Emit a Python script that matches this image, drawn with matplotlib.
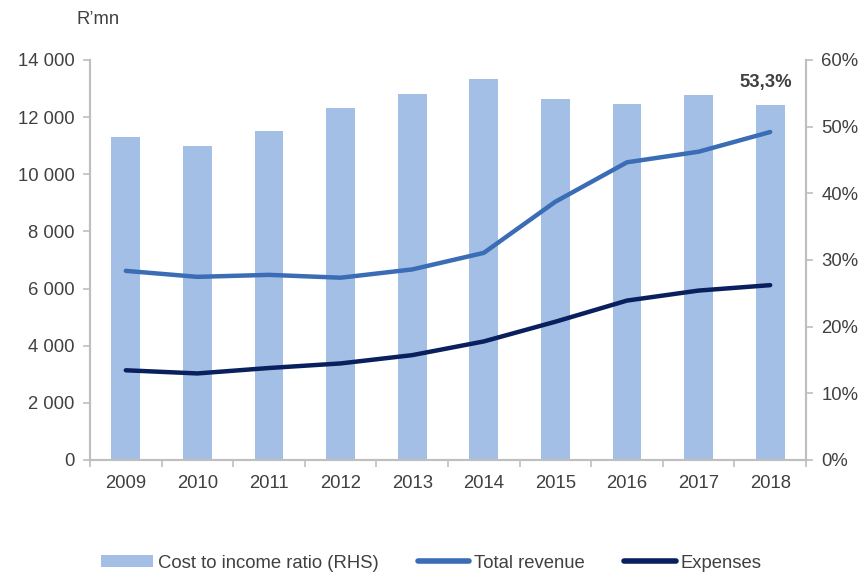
import numpy as np
import matplotlib
matplotlib.use("Agg")
import matplotlib.pyplot as plt
from matplotlib.patches import Patch
from matplotlib.lines import Line2D
from matplotlib.ticker import FuncFormatter, MultipleLocator

plt.rcParams['font.family'] = ['Liberation Sans', 'DejaVu Sans']

years = ['2009', '2010', '2011', '2012', '2013', '2014', '2015', '2016', '2017', '2018']
cost_income = [48.4, 47.1, 49.4, 52.8, 54.9, 57.1, 54.1, 53.4, 54.8, 53.3]   # %, RHS
total_revenue = [6620, 6410, 6480, 6380, 6670, 7250, 9040, 10420, 10790, 11480]
expenses = [3140, 3030, 3220, 3380, 3670, 4150, 4840, 5580, 5930, 6120]

bar_col = '#A4BFE5'
rev_col = '#3A6DB5'
exp_col = '#0A1F5E'
txt_col = '#404040'
spine_col = '#BFBFBF'
fs = 13.3

fig = plt.figure(figsize=(8.63, 5.73), dpi=100)
ax = fig.add_axes([90/863, 113/573, 716/863, 400/573])
ax2 = ax.twinx()

x = np.arange(len(years))
ax2.bar(x, cost_income, width=0.4, color=bar_col, zorder=1)
ax.plot(x, total_revenue, color=rev_col, lw=3.2, solid_capstyle='round', zorder=3)
ax.plot(x, expenses, color=exp_col, lw=3.2, solid_capstyle='round', zorder=3)

# lines in front of bars
ax.set_zorder(ax2.get_zorder() + 1)
ax.patch.set_visible(False)

ax.set_xlim(-0.5, len(years) - 0.5)
ax.set_ylim(0, 14000)
ax2.set_ylim(0, 60)
ax.yaxis.set_major_locator(MultipleLocator(2000))
ax2.yaxis.set_major_locator(MultipleLocator(10))
ax.yaxis.set_major_formatter(FuncFormatter(lambda v, p: f"{int(v):,}".replace(',', ' ')))
ax2.yaxis.set_major_formatter(FuncFormatter(lambda v, p: f"{int(v)}%"))

# category ticks between bars, labels centred
ax.set_xticks(np.arange(-0.5, len(years), 1.0))
ax.set_xticklabels([])
ax.set_xticks(x, minor=True)
ax.set_xticklabels(years, minor=True)
ax.tick_params(axis='x', which='minor', length=0, pad=11)
ax.tick_params(axis='x', which='major', length=5, color=spine_col, width=1.2)

for a in (ax, ax2):
    for s in a.spines.values():
        s.set_color(spine_col)
        s.set_linewidth(1.5)
    a.spines['top'].set_visible(False)
    a.tick_params(labelsize=fs, labelcolor=txt_col)
ax.tick_params(axis='y', length=5, color=spine_col, width=1.2, pad=6)
ax2.tick_params(axis='y', length=5, color=spine_col, width=1.2, pad=6)
ax.tick_params(axis='x', which='minor', labelsize=fs, labelcolor=txt_col)

ax2.annotate(f"{cost_income[-1]:.1f}%".replace('.', ','), xy=(x[-1], cost_income[-1]),
             xytext=(-3, 10), textcoords='offset points', ha='center', va='bottom',
             fontsize=fs, fontweight='bold', color=txt_col)

fig.text(77/863, 1 - 20/573, "R\u2019mn", fontsize=fs, color=txt_col, va='center')

handles = [Patch(facecolor=bar_col, edgecolor='none'),
           Line2D([], [], color=rev_col, lw=4, solid_capstyle='round'),
           Line2D([], [], color=exp_col, lw=4, solid_capstyle='round')]
labels = ['Cost to income ratio (RHS)', 'Total revenue', 'Expenses']
fig.legend(handles, labels, loc='center', bbox_to_anchor=(0.5, 1 - 563/573), ncol=3,
           frameon=False, fontsize=fs, handlelength=2.8, handleheight=0.55,
           handletextpad=0.27, columnspacing=2.1, labelcolor=txt_col)

fig.savefig('out.png', dpi=100)
